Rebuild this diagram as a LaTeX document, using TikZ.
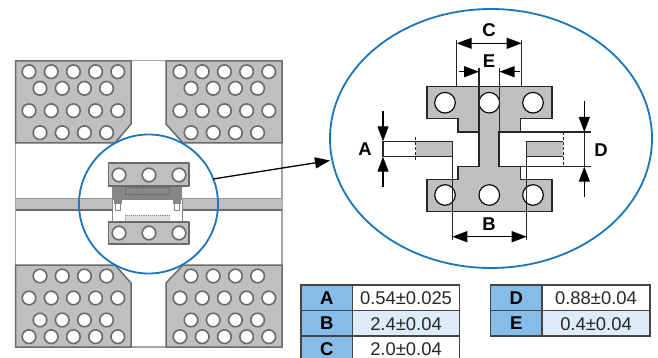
\documentclass[tikz,border=0pt]{standalone}
\usepackage{fontspec}
\setmainfont{Liberation Sans}
\usetikzlibrary{arrows.meta,shapes.geometric}
\definecolor{padgray}{HTML}{BFBFBF}
\definecolor{edgegray}{HTML}{6A6A6A}
\definecolor{darkgray}{HTML}{868686}
\definecolor{ringblue}{HTML}{1B75BB}
\definecolor{headblue}{HTML}{85BDE8}
\definecolor{rowblue}{HTML}{DEEBF9}
\definecolor{tabline}{HTML}{444444}
\tikzset{
  x=1pt,y=-1pt,
  panel/.style={fill=padgray,draw=edgegray,line width=1.5pt,line join=round},
  hole/.style={fill=white,draw=edgegray,line width=1.6pt},
  bighole/.style={fill=white,draw=black,line width=1.1pt},
  ring/.style={draw=ringblue,line width=1.8pt},
  padshape/.style={fill=padgray,draw=black!85,line width=1.2pt,line join=miter},
  dimline/.style={draw=black!85,line width=1.2pt},
  dimarrow/.style={draw=black,line width=1.2pt,-{Triangle[length=15pt,width=11pt]}},
  dimboth/.style={draw=black,line width=1.2pt,{Triangle[length=15pt,width=11pt]}-{Triangle[length=15pt,width=11pt]}},
  dimlabel/.style={font=\bfseries\fontsize{18.5}{18.5}\selectfont,inner sep=0pt,text=black},
  headcell/.style={fill=headblue,draw=tabline,line width=1.3pt},
  whitecell/.style={fill=white,draw=tabline,line width=1.3pt},
  bluecell/.style={fill=rowblue,draw=tabline,line width=1.3pt},
  headtext/.style={font=\bfseries\fontsize{18.5}{18.5}\selectfont,inner sep=0pt,text=black},
  valtext/.style={font=\fontsize{18.4}{18.4}\selectfont,inner sep=0pt,text=black!85},
}
\newcommand{\holesA}[2]{\foreach \hx in {0,22.2,44.4,66.6,88.8}{\draw[hole] (#1+\hx,#2) circle[radius=6.8];}}
\newcommand{\holesB}[2]{\foreach \hx in {0,22.2,44.4,66.6}{\draw[hole] (#1+\hx,#2) circle[radius=6.8];}}
\begin{document}
\begin{tikzpicture}
\clip (0,0) rectangle (658,358);
\fill[white] (0,0) rectangle (658,358);
% board
\draw[draw=black!35,line width=1.2pt] (15.5,60.5) rectangle (282,347);
\fill[padgray] (15.5,198) rectangle (282,210);
\draw[edgegray!70,line width=1pt] (15.5,198) -- (282,198);
\draw[edgegray,line width=1.6pt] (15.5,210) -- (282,210);
% panels
\draw[panel] (15.5,61) -- (131,61) -- (131,124) -- (115,143) -- (15.5,143) -- cycle;
\draw[panel] (282,61) -- (166,61) -- (166,124) -- (183,143) -- (282,143) -- cycle;
\draw[panel] (15.5,347) -- (131,347) -- (131,283) -- (115,265) -- (15.5,265) -- cycle;
\draw[panel] (282,347) -- (166,347) -- (166,283) -- (183,265) -- (282,265) -- cycle;
\holesA{29}{71.7}\holesB{40}{88.3}\holesA{29}{110.7}\holesB{40}{132.7}
\holesA{180}{71.7}\holesB{191}{88.3}\holesA{180}{110.7}\holesB{191}{132.7}
\holesB{40}{276}\holesA{29}{298}\holesB{40}{320}\holesA{29}{336.7}
\holesB{191}{276}\holesA{180}{298}\holesB{191}{320}\holesA{180}{336.7}
% connector
\fill[white] (112,200) rectangle (182,222);
\draw[edgegray!80,line width=0.9pt] (112,200) -- (112,222) (182,200) -- (182,222);
\fill[darkgray] (112,186) rectangle (182,200);
\draw[edgegray!90!black,line width=0.9pt,densely dotted] (125,187.5) rectangle (169,194);
\fill[darkgray] (114,198) rectangle (122,204);
\fill[darkgray] (173,198) rectangle (181,204);
\draw[edgegray!80,line width=0.7pt,fill=white] (115.5,203) rectangle (120.5,210);
\draw[edgegray!80,line width=0.7pt,fill=white] (174,203) rectangle (179,210);
\fill[black!12] (125,215) rectangle (169,222);
\draw[edgegray!80,line width=0.9pt,densely dotted] (125,215) rectangle (169,222);
\draw[panel] (108.5,163) rectangle (189,186);
\draw[panel] (108.5,222) rectangle (189,244);
\foreach \hx in {119,149,179}{
  \draw[hole] (\hx,175) circle[radius=6.8];
  \draw[hole] (\hx,233) circle[radius=6.8];
}
% zoom ring and big ellipse
\node[ring,circle,minimum size=139pt,inner sep=0pt] (ringsmall) at (148.5,204) {};
\node[ring,ellipse,minimum width=322pt,minimum height=259pt,inner sep=0pt] (ringbig) at (491,138.5) {};
\coordinate (leadstart) at (213,179);
\coordinate (leadend) at (330,160.5);
\draw[draw=black,line width=1.3pt,-{Triangle[length=15pt,width=11pt]}] (leadstart) -- (leadend);
% detail: footprint
\draw[padshape] (427,86.5) -- (552,86.5) -- (552,118.7) -- (520.7,118.7) -- (520.7,132) -- (499,132)
  -- (499,166.7) -- (520.7,166.7) -- (520.7,179.3) -- (552,179.3) -- (552,211.7) -- (427,211.7)
  -- (427,179.3) -- (458,179.3) -- (458,166.7) -- (479,166.7) -- (479,132) -- (458,132) -- (458,118.7) -- (427,118.7) -- cycle;
\fill[padgray] (415.7,141.3) rectangle (452.3,156.7);
\fill[padgray] (526.7,141.3) rectangle (563.3,156.7);
\foreach \hx in {445,489.3,533}{
  \draw[bighole] (\hx,102.7) circle[radius=10.3];
  \draw[bighole] (\hx,195) circle[radius=10.3];
}
% extension lines
\draw[dimline] (382,141.3) -- (452.3,141.3) (382,156.7) -- (452.3,156.7);
\draw[dimline] (526.7,141.3) -- (563.3,141.3) (526.7,156.7) -- (563.3,156.7);
\draw[dimline] (452.3,141.3) -- (452.3,240);
\draw[dimline] (526.7,141.3) -- (526.7,240);
\draw[dimline] (499,132) -- (590.7,132) (499,166.7) -- (590.7,166.7);
\draw[dimline] (456.7,40) -- (456.7,86.5) (521.7,40) -- (521.7,86.5);
\draw[dimline] (479,68) -- (479,132) (499.5,68) -- (499.5,132);
\draw[dimline,dash pattern=on 3pt off 2pt] (415.7,137) -- (415.7,160.5);
\draw[dimline,dash pattern=on 3pt off 2pt] (563.3,132) -- (563.3,166.7);
\draw[dimline] (383,141.3) -- (383,156.7);
\draw[dimline] (584.3,132) -- (584.3,166.7);
% dimension arrows
\coordinate (Cl) at (456.7,43.3); \coordinate (Cr) at (521.7,43.3);
\coordinate (El) at (459,71.7); \coordinate (Elt) at (479,71.7);
\coordinate (Er) at (520,71.7); \coordinate (Ert) at (499.5,71.7);
\coordinate (Bl) at (452.3,236.7); \coordinate (Br) at (526.7,236.7);
\coordinate (At) at (383,110.7); \coordinate (Att) at (383,141.3);
\coordinate (Ab) at (383,186.7); \coordinate (Abt) at (383,156.7);
\coordinate (Dt) at (584.3,100.7); \coordinate (Dtt) at (584.3,132);
\coordinate (Db) at (584.3,197); \coordinate (Dbt) at (584.3,166.7);
\draw[dimboth] (Cl) -- (Cr);
\draw[dimarrow] (El) -- (Elt);
\draw[dimarrow] (Er) -- (Ert);
\draw[dimboth] (Bl) -- (Br);
\draw[dimarrow] (At) -- (Att);
\draw[dimarrow] (Ab) -- (Abt);
\draw[dimarrow] (Dt) -- (Dtt);
\draw[dimarrow] (Db) -- (Dbt);
\node[dimlabel] (lC) at (489,30.5) {C};
\node[dimlabel] (lE) at (489,61) {E};
\node[dimlabel] (lB) at (489,224.5) {B};
\node[dimlabel] (lA) at (365,149.5) {A};
\node[dimlabel] (lD) at (601,150.5) {D};
% tables
\draw[headcell] (301,285) rectangle (352.3,310.3);
\draw[headcell] (301,310.3) rectangle (352.3,336);
\draw[headcell] (301,336) rectangle (352.3,362);
\draw[whitecell] (352.3,285) rectangle (459.7,310.3);
\draw[bluecell] (352.3,310.3) rectangle (459.7,336);
\draw[whitecell] (352.3,336) rectangle (459.7,362);
\draw[headcell] (490.7,285) rectangle (542,310.3);
\draw[headcell] (490.7,310.3) rectangle (542,336);
\draw[whitecell] (542,285) rectangle (650,310.3);
\draw[bluecell] (542,310.3) rectangle (650,336);
\node[headtext] (tA) at (326.7,298) {A};
\node[headtext] (tB) at (326.7,323.5) {B};
\node[headtext] (tC) at (326.7,349) {C};
\node[valtext] (vA) at (406,298.3) {0.54±0.025};
\node[valtext] (vB) at (406,323.8) {2.4±0.04};
\node[valtext] (vC) at (406,349.3) {2.0±0.04};
\node[headtext] (tD) at (516.3,298) {D};
\node[headtext] (tE) at (516.3,323.5) {E};
\node[valtext] (vD) at (596,298.3) {0.88±0.04};
\node[valtext] (vE) at (596,323.8) {0.4±0.04};
\end{tikzpicture}
\end{document}
